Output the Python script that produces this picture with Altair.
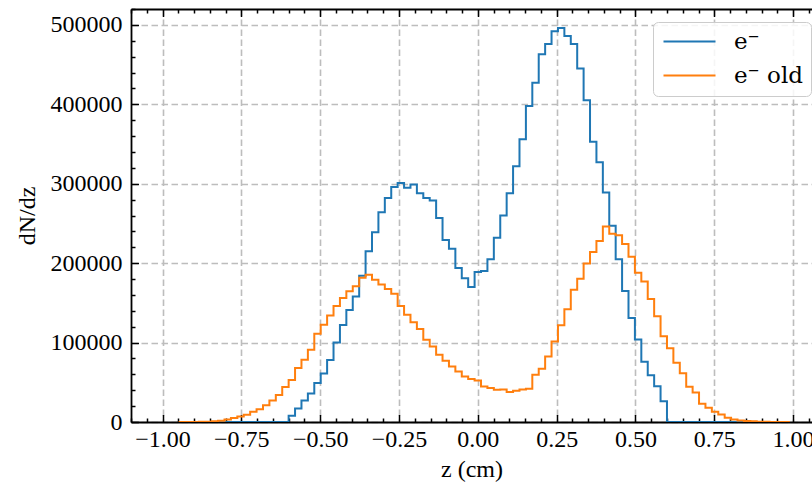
import altair as alt
import pandas as pd

# ---- shared histogram binning (bins of equal width; first bin index -17 relative to z=-0.6)
bin_lo = -0.6 - 17 * (1.2 / 59)
bin_width = 1.2 / 59

series_names = ["e\u207b", "e\u207b old"]
series_colors = ["#1f77b4", "#ff7f0e"]

# counts per bin (dN/dz)
blue_counts = [
    0, 0, 0, 0, 0, 0, 0, 0, 0, 0, 0, 0, 0, 0, 0, 0, 0,
    8000, 17000, 27000, 36000, 49000, 61000, 78000, 100000, 122000, 141000,
    158000, 184000, 215000, 239000, 264000, 282000, 296000, 301000, 295000, 299000,
    288000, 282000, 279000, 257000, 229000, 218000, 194000, 181000, 170000, 189000,
    190000, 205000, 232000, 260000, 288000, 322000, 356000, 398000, 427000, 463000,
    476000, 492000, 496000, 486000, 476000, 445000, 405000, 353000, 327000, 289000,
    247000, 205000, 165000, 131000, 104000, 76000, 59000, 45000, 26000,
    0, 0, 0, 0, 0, 0, 0, 0, 0, 0, 0, 0, 0, 0, 0, 0, 0, 0, 0,
]
orange_counts = [
    30, 60, 100, 200, 400, 800, 1500, 3000, 5000, 7000, 9000, 13000, 16000,
    21000, 27000, 34000, 44000,
    53000, 68000, 78500, 91000, 111000, 122500, 134000, 146000, 156000, 164500,
    171000, 181500, 185500, 179000, 173000, 167500, 161600, 146000, 135000, 125600,
    117000, 103600, 95000, 84800, 77200, 70000, 63700, 57400, 54000, 52400,
    44800, 42800, 40700, 40800, 37800, 39500, 41000, 42000, 59600, 67000,
    82600, 101500, 121700, 142000, 166600, 180500, 199500, 214000, 228000, 246000,
    237000, 235000, 224000, 208000, 188000, 177000, 155000, 133000, 108000,
    92800, 74700, 61300, 44500, 37300, 23000, 18000, 13000, 9500, 5500,
    3200, 2000, 1300, 800, 400, 250, 150, 80, 40,
]

x_major = [-1.0, -0.75, -0.5, -0.25, 0.0, 0.25, 0.5, 0.75, 1.0]
x_minor = [round(-1.1 + 0.05 * i, 2) for i in range(44)]
y_major = [0, 100000, 200000, 300000, 400000, 500000]
y_minor = [20000 * i for i in range(27)]

X_DOMAIN = [-1.1, 1.06]   # the reference figure is cropped on the right
W, H = 681, 413
FONT = "Liberation Serif"
GRID = dict(gridColor="#bdbdbd", gridDash=[6.5, 3.5], gridWidth=1.6)
SPINE = dict(domainColor="black", domainWidth=1.8)


def step_rows(counts, label):
    n = len(counts)
    rows = [{"z": bin_lo, "n": 0, "s": label, "o": 0}]
    for i, c in enumerate(counts):
        rows.append({"z": bin_lo + (i + 1) * bin_width, "n": c, "s": label, "o": i + 1})
    rows.append({"z": bin_lo + n * bin_width, "n": 0, "s": label, "o": n + 1})
    return rows


df = pd.DataFrame(step_rows(blue_counts, series_names[0]) + step_rows(orange_counts, series_names[1]))

xscale = alt.Scale(domain=X_DOMAIN, nice=False, zero=False)
yscale = alt.Scale(domain=[0, 520000], nice=False)
cscale = alt.Scale(domain=series_names, range=series_colors)

base = alt.Chart(df)

main_x_axis = alt.Axis(
    values=x_major, format=".2f", ticks=False, domain=True, grid=True, **GRID, **SPINE,
    labelFont=FONT, labelFontSize=24, labelColor="black", labelPadding=5,
    title="z (cm)", titleFont=FONT, titleFontSize=24, titleFontWeight="normal",
    titleColor="black", titlePadding=6,
)
main_y_axis = alt.Axis(
    values=y_major, format="d", ticks=False, domain=True, grid=True, **GRID, **SPINE,
    labelFont=FONT, labelFontSize=24, labelColor="black", labelPadding=9,
    title="dN/dz", titleFont=FONT, titleFontSize=24, titleFontWeight="normal",
    titleColor="black", titlePadding=11,
)

legend = alt.Legend(
    orient="none", legendX=522, legendY=13, title=None,
    symbolType="M-2.6,0L2.6,0", symbolSize=400, symbolStrokeWidth=2, symbolOffset=17,
    labelFont="DejaVu Serif", labelFontSize=23, labelColor="black", labelOffset=33,
    fillColor="rgba(255,255,255,0.85)", strokeColor="#cccccc", cornerRadius=5,
    padding=8, rowPadding=10,
)

blue = base.transform_filter(alt.datum.s == series_names[0]).mark_line(
    interpolate="step-before", strokeWidth=2, clip=True
).encode(
    x=alt.X("z:Q", scale=xscale, axis=main_x_axis),
    y=alt.Y("n:Q", scale=yscale, axis=main_y_axis),
    color=alt.Color("s:N", scale=cscale, legend=legend),
    order="o:Q",
)

orange = base.transform_filter(alt.datum.s == series_names[1]).mark_line(
    interpolate="step-before", strokeWidth=2, clip=True
).encode(
    x=alt.X("z:Q", scale=xscale, axis=None),
    y=alt.Y("n:Q", scale=yscale, axis=None),
    color=alt.Color("s:N", scale=cscale, legend=legend),
    order="o:Q",
)

x_tick_size = {"condition": {"test": "abs(datum.value*4 - round(datum.value*4)) < 0.01", "value": 7.5}, "value": 4}
y_tick_size = {"condition": {"test": "datum.value % 100000 == 0", "value": 7.5}, "value": 4}

# inward ticks: bottom edge (top-oriented axis moved down) and left edge (right-oriented axis moved left)
ticks_in = base.transform_filter(alt.datum.s == series_names[0]).mark_line(strokeOpacity=0).encode(
    x=alt.X("z:Q", scale=xscale, axis=alt.Axis(
        orient="top", offset=-H, values=x_minor, labels=False, domain=False, grid=False,
        tickSize=x_tick_size, tickColor="black", tickWidth=1.5, title=None)),
    y=alt.Y("n:Q", scale=yscale, axis=alt.Axis(
        orient="right", offset=-W, values=y_minor, labels=False, domain=False, grid=False,
        tickSize=y_tick_size, tickColor="black", tickWidth=1.5, title=None)),
)
# top spine with inward ticks
ticks_top = base.transform_filter(alt.datum.s == series_names[0]).mark_line(strokeOpacity=0).encode(
    x=alt.X("z:Q", scale=xscale, axis=alt.Axis(
        orient="bottom", offset=-H, values=x_minor, labels=False, domain=True, **SPINE, grid=False,
        tickSize=x_tick_size, tickColor="black", tickWidth=1.5, title=None)),
    y=alt.Y("n:Q", scale=yscale, axis=None),
)

chart = alt.layer(blue, orange, ticks_in, ticks_top).resolve_axis(
    x="independent", y="independent"
).properties(
    width=W, height=H,
    autosize=alt.AutoSizeParams(type="none"),
    padding={"left": 131, "top": 9, "right": 0, "bottom": 64},
    background="white",
).configure_view(stroke=None)

chart.save("out.html", embed_options={"renderer": "svg", "actions": False})
